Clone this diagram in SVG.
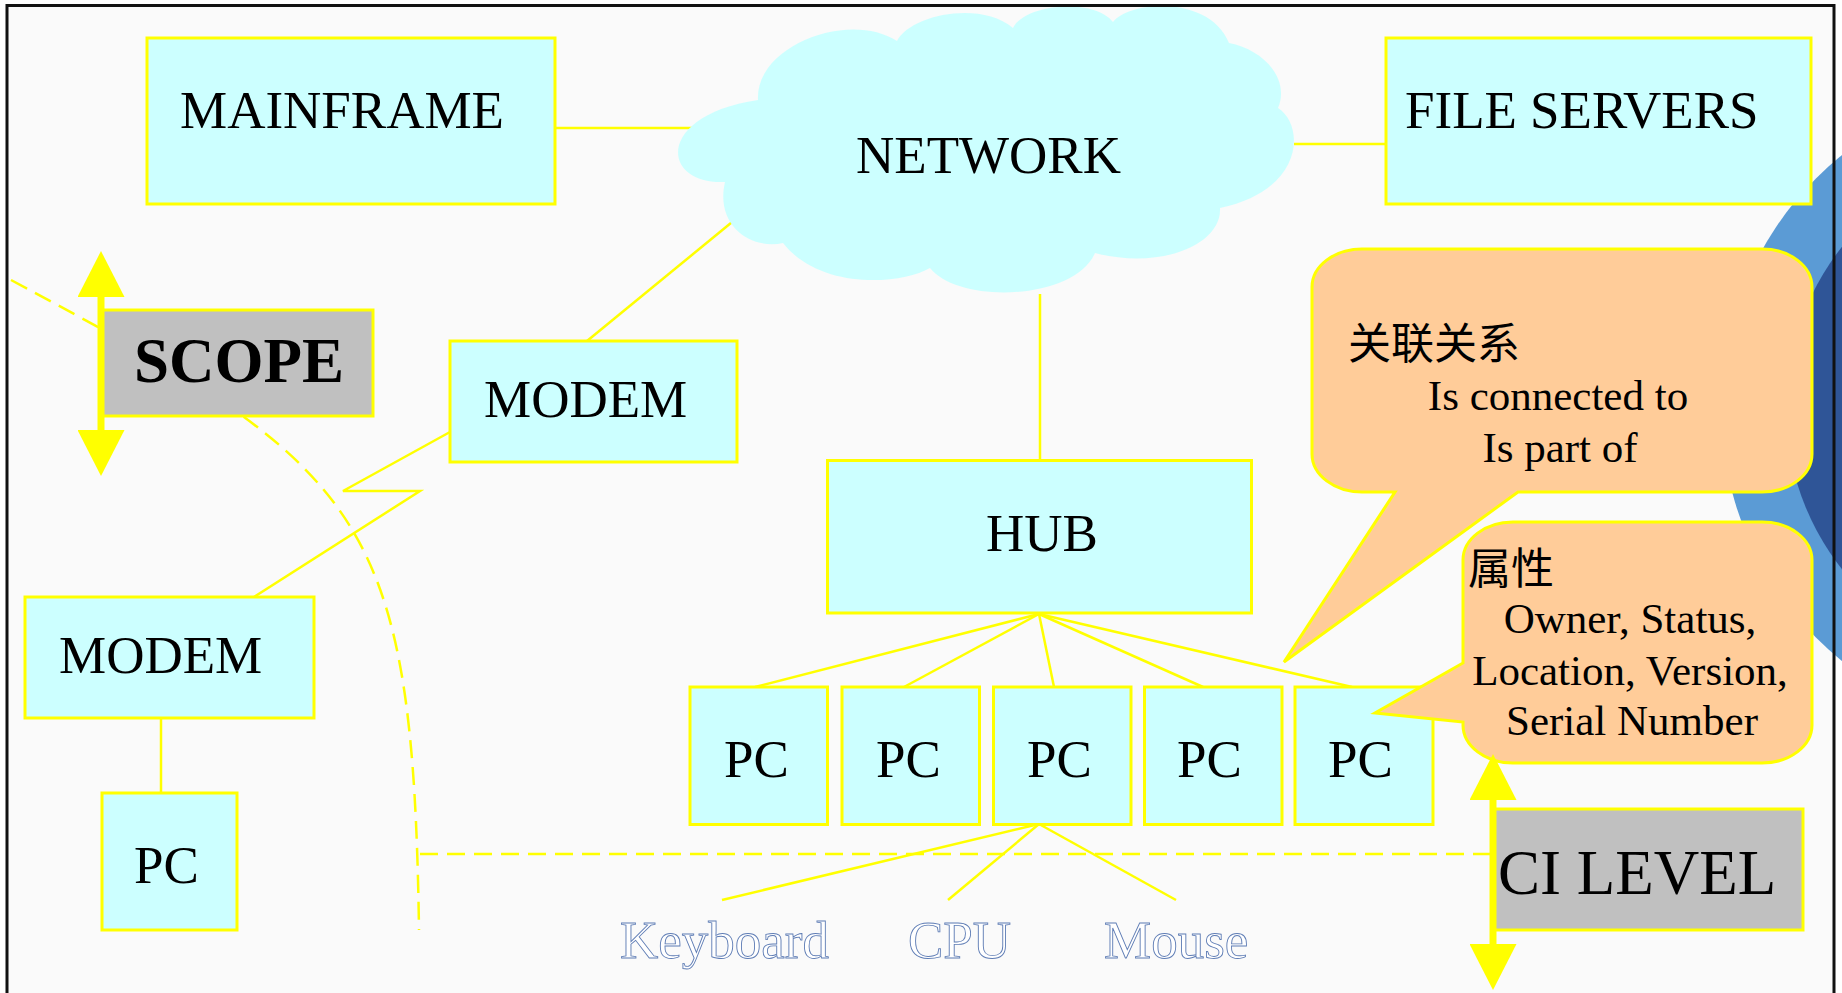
<svg xmlns="http://www.w3.org/2000/svg" width="1842" height="993" viewBox="0 0 1842 993">
  <style>
    .box { fill: #CCFFFF; stroke: #FFFF00; stroke-width: 3; }
    .grey { fill: #C0C0C0; stroke: #FFFF00; stroke-width: 3; }
    .link { fill: none; stroke: #FFFF00; stroke-width: 2.5; }
    .dash { fill: none; stroke: #FFFF00; stroke-width: 2.5; stroke-dasharray: 18 9; }
    .callout { fill: #FFCC99; stroke: #FFFF00; stroke-width: 3; }
    .lbl { font-family: "Liberation Serif", "Times New Roman", serif; font-size: 53px; fill: #000; }
    .big { font-family: "Liberation Serif", "Times New Roman", serif; font-size: 63px; fill: #000; }
    .note { font-family: "Liberation Serif", "Times New Roman", serif; font-size: 43px; fill: #000; }
    .cjk { font-family: "Noto Sans CJK SC", "Liberation Serif", sans-serif; font-size: 43px; fill: #000; }
    .ghost { font-family: "Liberation Serif", "Times New Roman", serif; font-size: 53px; fill: #FFFFFF; stroke: #5F7DB5; stroke-width: 0.9; }
    .axis { stroke: #FFFF00; stroke-width: 7; fill: none; }
  </style>
  <defs>
    <marker id="head" viewBox="0 0 10 10" refX="0" refY="5" markerWidth="46" markerHeight="47" markerUnits="userSpaceOnUse" orient="auto-start-reverse" preserveAspectRatio="none">
      <path d="M0,0 L10,5 L0,10 Z" fill="#FFFF00"/>
    </marker>
  </defs>

  <!-- page -->
  <rect x="0" y="0" width="1842" height="993" fill="#FFFFFF"/>
  <rect x="7" y="5.5" width="1827" height="1000" fill="#FAFAFA"/>

  <!-- decorative rings on the right edge -->
  <circle cx="2046" cy="408" r="325" fill="#5B9BD5"/>
  <circle cx="2046" cy="408" r="260" fill="#2F5597"/>

  <!-- connectors -->
  <g id="connectors">
    <path class="dash" d="M11,280 C363,468 413,510 419,930"/>
    <line class="dash" x1="420" y1="854" x2="1493" y2="854"/>
    <line class="link" x1="555" y1="128" x2="707" y2="128"/>
    <line class="link" x1="1294" y1="144" x2="1386" y2="144"/>
    <line class="link" x1="737" y1="218" x2="587" y2="341"/>
    <line class="link" x1="1040" y1="294" x2="1040" y2="461"/>
    <polyline class="link" points="450,432 343,491 420,491 254,597"/>
    <line class="link" x1="161" y1="718" x2="161" y2="793"/>
    <line class="link" x1="1039" y1="614" x2="755" y2="687"/>
    <line class="link" x1="1039" y1="614" x2="904" y2="687"/>
    <line class="link" x1="1039" y1="614" x2="1054" y2="687"/>
    <line class="link" x1="1039" y1="614" x2="1203" y2="687"/>
    <line class="link" x1="1039" y1="614" x2="1352" y2="687"/>
    <line class="link" x1="1039" y1="824" x2="722" y2="900"/>
    <line class="link" x1="1039" y1="824" x2="948" y2="900"/>
    <line class="link" x1="1039" y1="824" x2="1176" y2="900"/>
  </g>

  <g id="network">
    <path fill="#CCFFFF" d="M725,182 C660,185 655,115 758,100 C755,45 850,10 897,41 C910,15 980,0 1013,28 C1025,3 1095,-2 1113,22 C1130,0 1210,-5 1229,43 C1265,50 1290,80 1278,108 C1305,125 1305,190 1220,208 C1222,245 1160,270 1095,253 C1075,300 960,305 930,268 C900,285 820,290 783,243 C750,250 715,225 725,182 Z"/>
    <text class="lbl" x="856" y="173">NETWORK</text>
  </g>

  <g id="mainframe">
    <rect class="box" x="147" y="38" width="408" height="166"/>
    <text class="lbl" x="180" y="128">MAINFRAME</text>
  </g>

  <g id="file-servers">
    <rect class="box" x="1386" y="38" width="425" height="166"/>
    <text class="lbl" x="1405" y="128">FILE SERVERS</text>
  </g>

  <g id="modem-1">
    <rect class="box" x="450" y="341" width="287" height="121"/>
    <text class="lbl" x="484" y="417">MODEM</text>
  </g>

  <g id="modem-2">
    <rect class="box" x="25" y="597" width="289" height="121"/>
    <text class="lbl" x="59" y="673">MODEM</text>
  </g>

  <g id="pc-remote">
    <rect class="box" x="102" y="793" width="135" height="137"/>
    <text class="lbl" x="134" y="883">PC</text>
  </g>

  <g id="hub">
    <rect class="box" x="827.5" y="460.5" width="424" height="152.5"/>
    <text class="lbl" x="986" y="551">HUB</text>
  </g>

  <g id="pc-1">
    <rect class="box" x="690" y="687" width="137.5" height="137.5"/>
    <text class="lbl" x="724" y="777">PC</text>
  </g>
  <g id="pc-2">
    <rect class="box" x="842" y="687" width="137.5" height="137.5"/>
    <text class="lbl" x="876" y="777">PC</text>
  </g>
  <g id="pc-3">
    <rect class="box" x="993.5" y="687" width="137.5" height="137.5"/>
    <text class="lbl" x="1027" y="777">PC</text>
  </g>
  <g id="pc-4">
    <rect class="box" x="1144.5" y="687" width="137.5" height="137.5"/>
    <text class="lbl" x="1177" y="777">PC</text>
  </g>
  <g id="pc-5">
    <rect class="box" x="1295" y="687" width="138" height="137.5"/>
    <text class="lbl" x="1328" y="777">PC</text>
  </g>

  <g id="keyboard">
    <text class="ghost" x="620" y="958">Keyboard</text>
  </g>
  <g id="cpu">
    <text class="ghost" x="908" y="958">CPU</text>
  </g>
  <g id="mouse">
    <text class="ghost" x="1104" y="958">Mouse</text>
  </g>

  <g id="relations">
    <path class="callout" d="M1362,249 H1762 A50 38 0 0 1 1812,287 V454 A50 38 0 0 1 1762,492 H1518 L1284,662 L1395,492 H1362 A50 38 0 0 1 1312,454 V287 A50 38 0 0 1 1362,249 Z"/>
    <text class="cjk" x="1348" y="359">关联关系</text>
    <text class="note" x="1558" y="410" text-anchor="middle">Is connected to</text>
    <text class="note" x="1560" y="462" text-anchor="middle">Is part of</text>
  </g>

  <g id="attributes">
    <path class="callout" d="M1513,522 H1762 A50 38 0 0 1 1812,560 V725 A50 38 0 0 1 1762,763 H1513 A50 38 0 0 1 1463,725 V722 L1375,713 L1463,663 V560 A50 38 0 0 1 1513,522 Z"/>
    <text class="cjk" x="1468" y="584">属性</text>
    <text class="note" x="1630" y="633" text-anchor="middle">Owner, Status,</text>
    <text class="note" x="1630" y="685" text-anchor="middle">Location, Version,</text>
    <text class="note" x="1632" y="735" text-anchor="middle">Serial Number</text>
  </g>

  <g id="scope">
    <line class="axis" x1="101" y1="297" x2="101" y2="430" marker-start="url(#head)" marker-end="url(#head)"/>
    <rect class="grey" x="103" y="310" width="270" height="106"/>
    <text class="big" x="134" y="382" font-weight="bold" font-size="62">SCOPE</text>
  </g>

  <g id="ci-level">
    <line class="axis" x1="1493" y1="800" x2="1493" y2="944" marker-start="url(#head)" marker-end="url(#head)"/>
    <rect class="grey" x="1495" y="809" width="308" height="121"/>
    <text class="big" x="1498" y="894">CI LEVEL</text>
  </g>

  <!-- frame -->
  <rect x="7" y="5.5" width="1827" height="1000" fill="none" stroke="#111111" stroke-width="3"/>
</svg>
